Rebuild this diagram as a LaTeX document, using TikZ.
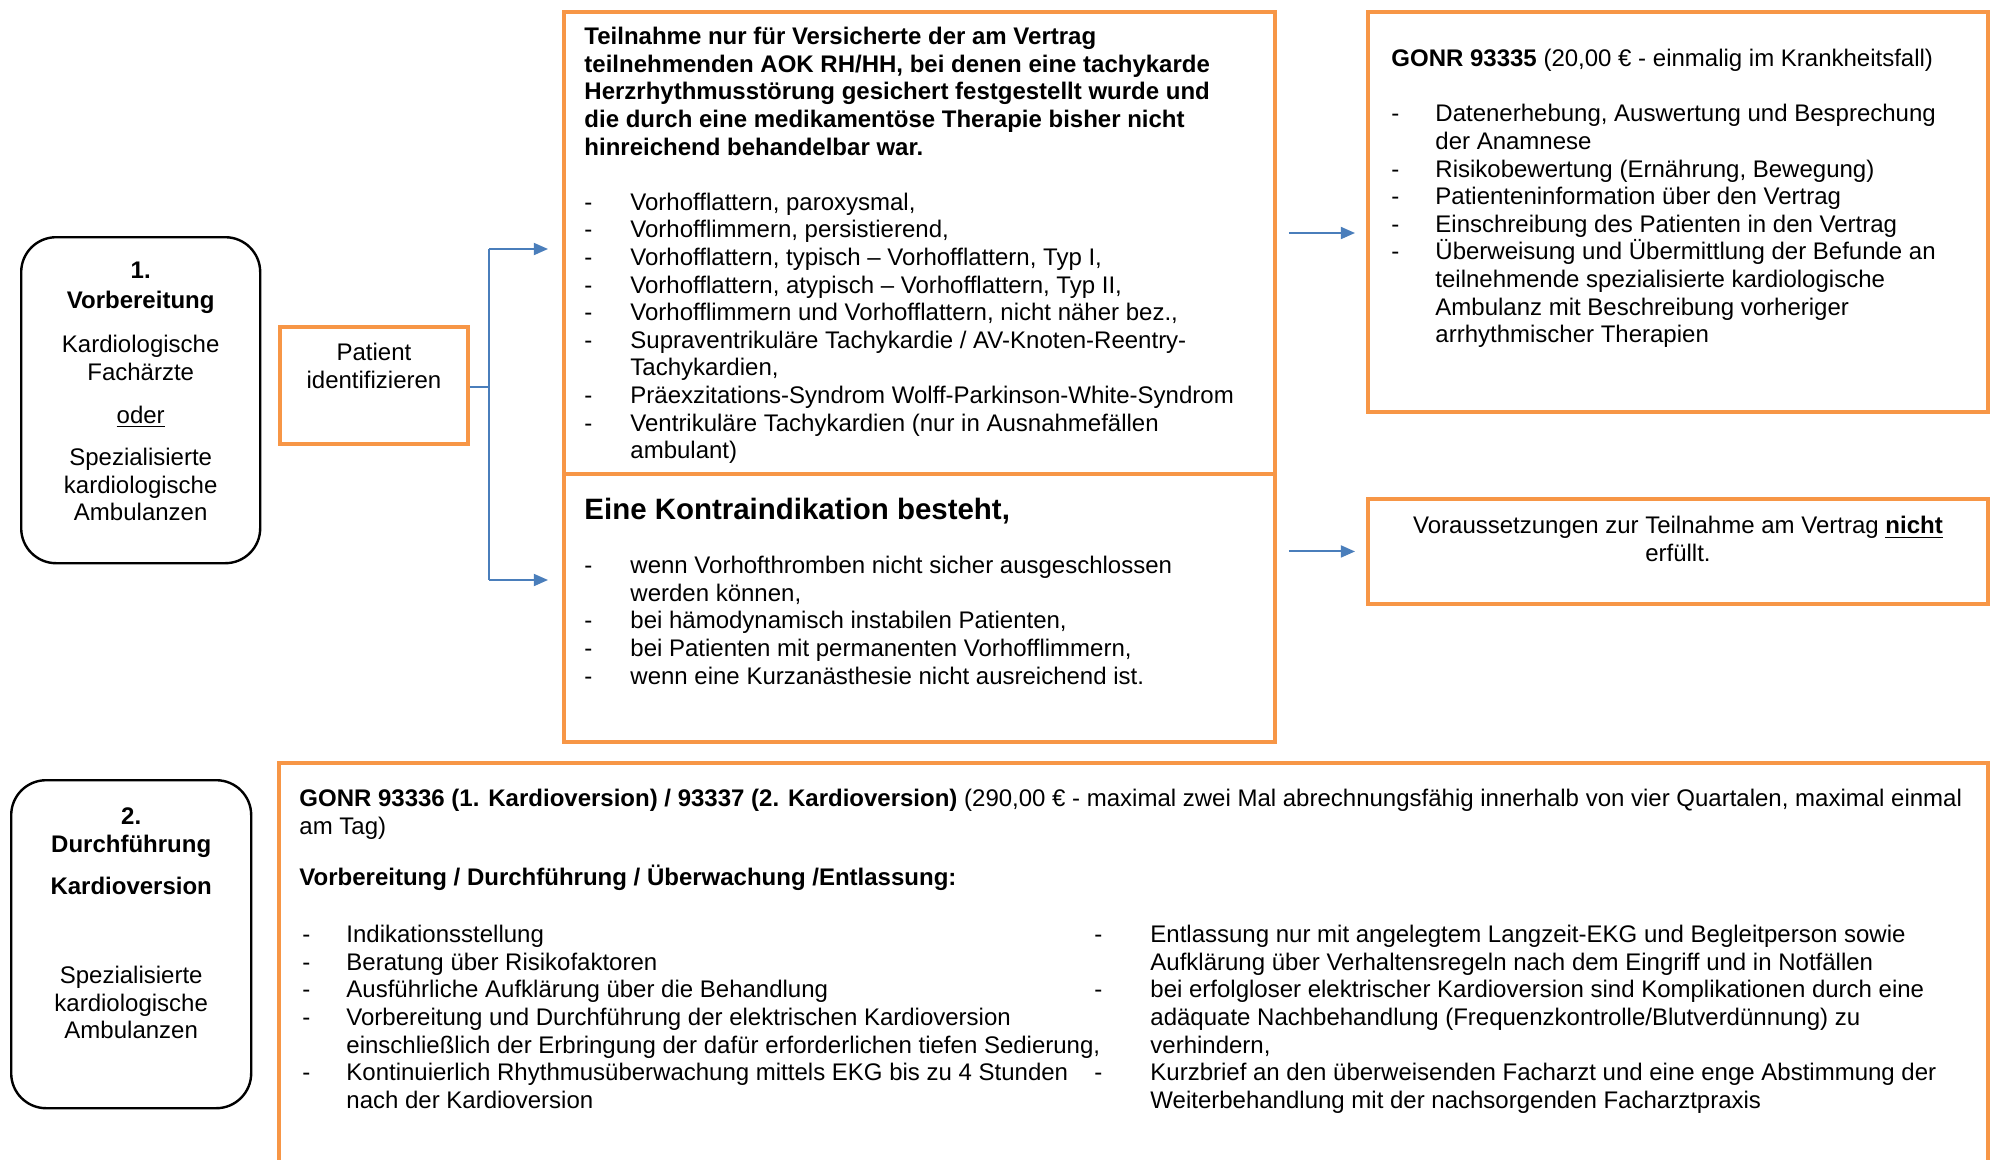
\documentclass[tikz,border=0pt]{standalone}
\usepackage{fontspec}
\setmainfont{Liberation Sans}
\usetikzlibrary{arrows.meta,positioning}
\newlength\pxu
\setlength\pxu{0.4583pt}
\definecolor{boxorange}{HTML}{F79646}
\definecolor{arrowblue}{HTML}{4A7EBB}
\newcommand{\itm}[2][46]{\makebox[#1\pxu][l]{-}#2}
\newcommand{\cnt}[2][46]{\hspace*{#1\pxu}#2}

\begin{document}
\begin{tikzpicture}[x=0.4583pt,y=-0.4583pt,
  obox/.style={draw=boxorange, line width=1.8pt, fill=white, inner sep=0pt, anchor=north west},
  rbox/.style={draw=black, line width=1.1pt, rounded corners=16pt, inner sep=0pt, anchor=north west},
  txt/.style={inner sep=0pt, align=left, font=\fontsize{11}{12.65}\selectfont},
  ctxt/.style={txt, align=center},
  line/.style={draw=arrowblue, line width=0.9pt},
  arr/.style={line, -{Triangle[length=6.5pt,width=5.5pt]}}]
  \path[use as bounding box, fill=white] (0,0) rectangle (1990,1160);
  \clip (0,0) rectangle (1990,1160);

  \node[rbox, minimum width=239\pxu, minimum height=326\pxu] (prep) at (20,236) {};
  \node[ctxt, below=23\pxu of prep.north] (preptxt) {\strut\textbf{1.}\\[2\pxu]\textbf{Vorbereitung}\\[17\pxu]
    Kardiologische\\Fachärzte\\[15\pxu]\underline{oder}\\[15\pxu]Spezialisierte\\kardiologische\\Ambulanzen};

  \node[obox, minimum width=188\pxu, minimum height=117\pxu] (patient) at (278,325) {};
  \node[ctxt, below=16\pxu of patient.north] (patienttxt) {\strut Patient\\identifizieren};

  \node[obox, minimum width=711\pxu, minimum height=462\pxu] (teiln) at (562,10) {};
  \node[txt, below right=15\pxu and 22\pxu of teiln.north west] (teilntxt) {%
    \strut\textbf{Teilnahme nur für Versicherte der am Vertrag}\\
    \textbf{teilnehmenden AOK RH/HH, bei denen eine tachykarde}\\
    \textbf{Herzrhythmusstörung gesichert festgestellt wurde und}\\
    \textbf{die durch eine medikamentöse Therapie bisher nicht}\\
    \textbf{hinreichend behandelbar war.}\\[12.65pt]
    \itm{Vorhofflattern, paroxysmal,}\\
    \itm{Vorhofflimmern, persistierend,}\\
    \itm{Vorhofflattern, typisch – Vorhofflattern, Typ I,}\\
    \itm{Vorhofflattern, atypisch – Vorhofflattern, Typ II,}\\
    \itm{Vorhofflimmern und Vorhofflattern, nicht näher bez.,}\\
    \itm{Supraventrikuläre Tachykardie / AV-Knoten-Reentry-}\\
    \cnt{Tachykardien,}\\
    \itm{Präexzitations-Syndrom Wolff-Parkinson-White-Syndrom}\\
    \itm{Ventrikuläre Tachykardien (nur in Ausnahmefällen}\\
    \cnt{ambulant)}};

  \node[obox, minimum width=711\pxu, minimum height=268\pxu] (kontra) at (562,472) {};
  \node[txt, font=\fontsize{13.5}{15.5}\selectfont\bfseries, below right=23\pxu and 22\pxu of kontra.north west] (kontrahd)
    {\strut Eine Kontraindikation besteht,};
  \node[txt, below right=82\pxu and 22\pxu of kontra.north west] (kontratxt) {%
    \strut\itm{wenn Vorhofthromben nicht sicher ausgeschlossen}\\
    \cnt{werden können,}\\
    \itm{bei hämodynamisch instabilen Patienten,}\\
    \itm{bei Patienten mit permanenten Vorhofflimmern,}\\
    \itm{wenn eine Kurzanästhesie nicht ausreichend ist.}};

  \node[obox, minimum width=620\pxu, minimum height=400\pxu] (gonr) at (1366,10) {};
  \node[txt, below right=37\pxu and 25\pxu of gonr.north west] (gonrtxt) {%
    \strut\textbf{GONR 93335} (20,00 € - einmalig im Krankheitsfall)\\[12.65pt]
    \itm[44]{Datenerhebung, Auswertung und Besprechung}\\
    \cnt[44]{der Anamnese}\\
    \itm[44]{Risikobewertung (Ernährung, Bewegung)}\\
    \itm[44]{Patienteninformation über den Vertrag}\\
    \itm[44]{Einschreibung des Patienten in den Vertrag}\\
    \itm[44]{Überweisung und Übermittlung der Befunde an}\\
    \cnt[44]{teilnehmende spezialisierte kardiologische}\\
    \cnt[44]{Ambulanz mit Beschreibung vorheriger}\\
    \cnt[44]{arrhythmischer Therapien}};

  \node[obox, minimum width=620\pxu, minimum height=105\pxu] (vorauss) at (1366,497) {};
  \node[ctxt, below=17\pxu of vorauss.north] (voraustxt)
    {\strut Voraussetzungen zur Teilnahme am Vertrag \textbf{\underline{nicht}}\\erfüllt.};

  \coordinate (fork) at (489,387);
  \coordinate (forktop) at (489,249);
  \coordinate (forkbot) at (489,580);
  \coordinate (intop) at (548,249);
  \coordinate (inbot) at (548,580);
  \draw[line] (patient.east |- fork) -- (fork);
  \draw[line] (forktop) -- (forkbot);
  \draw[arr] (forktop) -- (intop);
  \draw[arr] (forkbot) -- (inbot);
  \coordinate (gin) at (1355,233);
  \draw[arr, shorten <=12\pxu] (teiln.east |- gin) -- (gin);
  \draw[arr, shorten <=12\pxu, shorten >=11\pxu] (kontra.east |- vorauss.west) -- (vorauss.west);

  \node[rbox, minimum width=240\pxu, minimum height=328\pxu] (exec) at (10,779) {};
  \node[ctxt, below=26\pxu of exec.north] (exectxt) {\strut\textbf{2.}\\\textbf{Durchführung}\\[15\pxu]
    \textbf{Kardioversion}\\[61\pxu]Spezialisierte\\kardiologische\\Ambulanzen};

  \node[obox, minimum width=1709\pxu, minimum height=430\pxu] (kardio) at (277,761) {};
  \node[txt, below right=26\pxu and 22\pxu of kardio.north west] (kardiohd) {%
    \strut\textbf{GONR 93336 (1. Kardioversion) / 93337 (2. Kardioversion)} (290,00 € - maximal zwei Mal abrechnungsfähig innerhalb von vier Quartalen, maximal einmal\\
    am Tag)\\[24\pxu]
    \textbf{Vorbereitung / Durchführung / Überwachung /Entlassung:}};
  \node[txt, below right=162\pxu and 25\pxu of kardio.north west] (kardioleft) {%
    \strut\itm[44]{Indikationsstellung}\\
    \itm[44]{Beratung über Risikofaktoren}\\
    \itm[44]{Ausführliche Aufklärung über die Behandlung}\\
    \itm[44]{Vorbereitung und Durchführung der elektrischen Kardioversion}\\
    \cnt[44]{einschließlich der Erbringung der dafür erforderlichen tiefen Sedierung,}\\
    \itm[44]{Kontinuierlich Rhythmusüberwachung mittels EKG bis zu 4 Stunden}\\
    \cnt[44]{nach der Kardioversion}};
  \node[txt, below right=162\pxu and 817\pxu of kardio.north west] (kardioright) {%
    \strut\itm[56]{Entlassung nur mit angelegtem Langzeit-EKG und Begleitperson sowie}\\
    \cnt[56]{Aufklärung über Verhaltensregeln nach dem Eingriff und in Notfällen}\\
    \itm[56]{bei erfolgloser elektrischer Kardioversion sind Komplikationen durch eine}\\
    \cnt[56]{adäquate Nachbehandlung (Frequenzkontrolle/Blutverdünnung) zu}\\
    \cnt[56]{verhindern,}\\
    \itm[56]{Kurzbrief an den überweisenden Facharzt und eine enge Abstimmung der}\\
    \cnt[56]{Weiterbehandlung mit der nachsorgenden Facharztpraxis}};
\end{tikzpicture}
\end{document}
